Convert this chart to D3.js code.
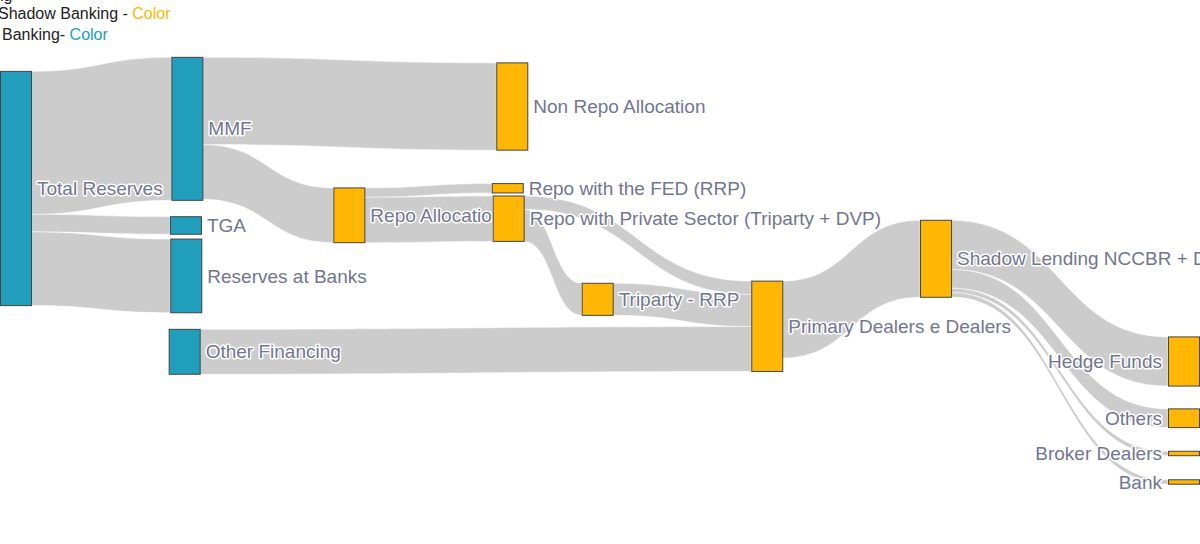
<!DOCTYPE html>
<html>
<head>
<meta charset="utf-8">
<style>
    body {
        margin: 0;
        background: #fff;
        font-family: "Liberation Sans", Arial, sans-serif;
    }
    .link {
        fill: rgba(0, 0, 0, 0.2);
        stroke: #fff;
        stroke-width: 0.5px;
    }
    .node rect {
        stroke: #444;
        stroke-width: 1px;
    }
    .node text {
        font-size: 19px;
        fill: #72768f;
        stroke: #fff;
        stroke-width: 3px;
        stroke-linejoin: round;
        paint-order: stroke;
    }
    .legend text {
        font-size: 16px;
        fill: #222;
    }
</style>
<script src="https://d3js.org/d3.v7.min.js"></script>
</head>
<body>
<script>
    const width = 1200,
        height = 544,
        nodeWidth = 31;

    // nodes (plotly style: label, column x and centre y as fractions, group)
    const nodeLabels = [
        'Total Reserves', 'MMF', 'TGA', 'Reserves at Banks', 'Other Financing',
        'Non Repo Allocation', 'Repo Allocation', 'Repo with the FED (RRP)',
        'Repo with Private Sector (Triparty + DVP)', 'Triparty - RRP',
        'Primary Dealers e Dealers', 'Shadow Lending NCCBR + DVP',
        'Hedge Funds', 'Others', 'Broker Dealers', 'Bank'
    ];
    const nodeX = [0, 0.1467, 0.1455, 0.1458, 0.1444, 0.4249, 0.2854, 0.4210,
        0.4218, 0.4980, 0.6432, 0.7877, 1, 1, 1, 1];
    const nodeY = [0.3465, 0.2368, 0.4145, 0.5072, 0.6467, 0.1958, 0.3958, 0.3461,
        0.4020, 0.5502, 0.5998, 0.4757, 0.6645, 0.7688, 0.8336, 0.8860];
    const nodeShadow = [false, false, false, false, false, true, true, true,
        true, true, true, true, true, true, true, true];

    // links
    const linkSource = [0, 0, 0, 1, 1, 6, 6, 8, 8, 9, 4, 10, 11, 11, 11, 11];
    const linkTarget = [1, 2, 3, 5, 6, 7, 8, 10, 9, 10, 10, 11, 12, 13, 14, 15];
    const linkValue = [61.1, 7.5, 31.5, 37.3, 23.4, 4.0, 19.4, 5.7, 13.7, 13.7,
        19.2, 32.9, 21.0, 8.0, 1.9, 1.9];

    const colorTraditional = '#219ebc',
        colorShadow = '#ffb703';

    const x = d3.scaleLinear().domain([0, 1]).range([0, width - nodeWidth - 1]);
    const y = d3.scaleLinear().domain([0, 1]).range([0, height]);
    const v = d3.scaleLinear().domain([0, 100]).range([0, 234]);

    const nodes = nodeLabels.map((name, i) => ({
        name, i, shadow: nodeShadow[i], out: [], in: []
    }));
    const links = linkValue.map((value, i) => ({
        source: nodes[linkSource[i]], target: nodes[linkTarget[i]], value
    }));
    links.forEach(l => { l.source.out.push(l); l.target.in.push(l); });

    nodes.forEach((d, i) => {
        d.value = Math.max(d3.sum(d.in, l => l.value), d3.sum(d.out, l => l.value));
        const h = v(d.value);
        d.x0 = x(nodeX[i]);
        d.x1 = d.x0 + nodeWidth;
        d.y0 = y(nodeY[i]) - h / 2;
        d.y1 = d.y0 + h;
    });

    // stack links on each node, ordered by the far end's top
    nodes.forEach(d => {
        let sy = d.y0;
        d.out.sort((a, b) => a.target.y0 - b.target.y0)
            .forEach(l => { l.sy = sy; sy += v(l.value); });
        let ty = d.y0;
        d.in.sort((a, b) => a.source.y0 - b.source.y0)
            .forEach(l => { l.ty = ty; ty += v(l.value); });
    });

    const linkPath = l => {
        const x0 = l.source.x1, x1 = l.target.x0, w = v(l.value);
        const xc = d3.interpolateNumber(x0, x1)(0.5);
        const p = d3.path();
        p.moveTo(x0, l.sy);
        p.bezierCurveTo(xc, l.sy, xc, l.ty, x1, l.ty);
        p.lineTo(x1, l.ty + w);
        p.bezierCurveTo(xc, l.ty + w, xc, l.sy + w, x0, l.sy + w);
        p.closePath();
        return p.toString();
    };

    const svg = d3.select('body').append('svg')
        .attr('width', width)
        .attr('height', height);

    svg.append('g').selectAll('path')
        .data(links)
        .join('path')
        .attr('class', 'link')
        .attr('d', linkPath);

    const node = svg.append('g').selectAll('g.node')
        .data(nodes)
        .join('g')
        .attr('class', 'node');

    node.append('rect')
        .attr('x', d => d.x0 + 0.5)
        .attr('y', d => d.y0)
        .attr('width', nodeWidth)
        .attr('height', d => Math.max(1, d.y1 - d.y0))
        .style('fill', d => d.shadow ? colorShadow : colorTraditional);

    node.append('text')
        .attr('x', d => d.x0 >= width - nodeWidth - 2 ? d.x0 - 6 : d.x1 + 6)
        .attr('y', d => (d.y0 + d.y1) / 2)
        .attr('dy', '0.35em')
        .attr('text-anchor', d => d.x0 >= width - nodeWidth - 2 ? 'end' : 'start')
        .text(d => d.name);

    // colour legend (annotation clipped at the top-left corner)
    const legend = svg.append('g').attr('class', 'legend');
    legend.append('text')
        .attr('x', 12.5).attr('y', 0.5)
        .attr('text-anchor', 'end')
        .text('Legend Coloring');
    const l1 = legend.append('text').attr('x', -2).attr('y', 19);
    l1.append('tspan').text('Shadow Banking - ');
    l1.append('tspan').style('fill', colorShadow).text('Color');
    const l2 = legend.append('text').attr('x', 2).attr('y', 40);
    l2.append('tspan').text('Banking- ');
    l2.append('tspan').style('fill', colorTraditional).text('Color');
</script>
</body>
</html>
